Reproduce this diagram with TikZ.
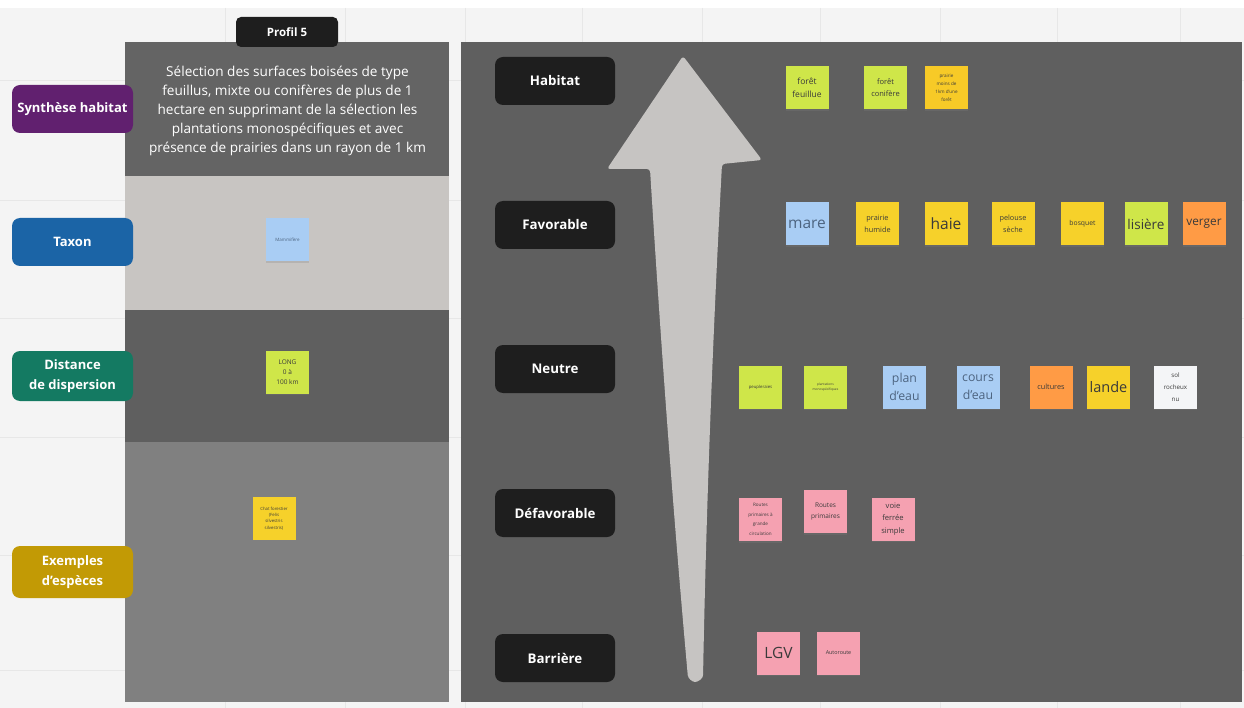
\documentclass[tikz,border=0pt]{standalone}
\usepackage{fontspec}
\setmainfont{Open Sans}
\usetikzlibrary{shadows}
\definecolor{bgc}{HTML}{F4F4F4}
\definecolor{gridc}{HTML}{E7E7E7}
\definecolor{panelc}{HTML}{5F5F5F}
\definecolor{headc}{HTML}{646464}
\definecolor{lightc}{HTML}{C8C5C2}
\definecolor{darkc}{HTML}{5F5F5F}
\definecolor{midc}{HTML}{808080}
\definecolor{blackc}{HTML}{1E1E1E}
\definecolor{purplec}{HTML}{61206F}
\definecolor{bluec}{HTML}{1B64A6}
\definecolor{tealc}{HTML}{147A62}
\definecolor{goldc}{HTML}{C29A05}
\definecolor{arrowc}{HTML}{C6C4C2}
\definecolor{limec}{HTML}{CFE649}
\definecolor{yellowc}{HTML}{F6D12A}
\definecolor{orangec}{HTML}{FF9B45}
\definecolor{skyc}{HTML}{A9CDF4}
\definecolor{pinkc}{HTML}{F5A1B1}
\definecolor{whitec}{HTML}{F4F5F7}
\definecolor{txtc}{HTML}{3A3A3A}
\definecolor{bluetxt}{HTML}{4D6480}
\newcommand\myfs[2]{\fontsize{#1}{#2}\selectfont}
\tikzset{
  leftlbl/.style={rounded corners=8pt, text=white, align=center, minimum width=121pt, inner sep=0pt,
    font=\bfseries\myfs{13}{19.5}},
  catbox/.style={fill=blackc, rounded corners=8pt, text=white, align=center, minimum width=120pt,
    minimum height=48pt, inner sep=0pt, font=\bfseries\myfs{13.3}{15}},
  note/.style={minimum width=43pt, minimum height=43pt, inner sep=0pt, align=center, text=txtc,
    drop shadow={opacity=0.25, shadow xshift=0pt, shadow yshift=-1.5pt}},
  lime/.style={note, fill=limec},
  yel/.style={note, fill=yellowc},
  ora/.style={note, fill=orangec},
  sky/.style={note, fill=skyc, text=bluetxt},
  pink/.style={note, fill=pinkc},
  wht/.style={note, fill=whitec},
}
\begin{document}
\begin{tikzpicture}[x=1pt,y=-1pt]
\useasboundingbox (0,0) rectangle (1244,708);
% background and grid
\fill[bgc] (0,0) rectangle (1244,708);
\fill[white] (0,0) rectangle (1244,8);
\foreach \gx in {225,345,465,582,702,820,940,1057,1180}
  \draw[gridc, line width=0.8pt] (\gx,8) -- (\gx,708);
\foreach \gy in {80,200,318,437,555,670}
  \draw[gridc, line width=0.8pt] (0,\gy) -- (1244,\gy);

% left panel
\fill[headc] (125,42) rectangle (449,176);
\fill[lightc] (125,176) rectangle (449,310);
\fill[darkc] (125,310) rectangle (449,442);
\fill[midc] (125,442) rectangle (449,702);

\node[fill=blackc, rounded corners=5pt, text=white, minimum width=102pt, minimum height=30pt,
  inner sep=0pt, font=\bfseries\myfs{11.5}{14}] (profil) at (287,32) {Profil 5};

\node[text=white, align=center, font=\myfs{13.6}{19.2}] (synthtext) at (287.5,111)
  {Sélection des surfaces boisées de type\\feuillus, mixte ou conifères de plus de 1\\hectare en supprimant de la sélection les\\plantations monospécifiques et avec\\présence de prairies dans un rayon de 1 km};

\node[leftlbl, fill=purplec, minimum height=48pt] (synth) at (72.5,109) {Synthèse habitat};
\node[leftlbl, fill=bluec, minimum height=48pt] (taxon) at (72.5,242) {Taxon};
\node[leftlbl, fill=tealc, minimum height=50pt] (dist) at (72.5,376) {Distance\\de dispersion};
\node[leftlbl, fill=goldc, minimum height=52pt] (ex) at (72.5,572) {Exemples\\d'espèces};

\node[sky, font=\myfs{4.5}{6}] (mammi) at (287.5,240) {Mammifère};
\node[lime, font=\myfs{6.5}{10}] (long) at (287.5,372) {LONG\\0 à\\100 km};
\node[yel, font=\myfs{4.3}{6.2}] (chat) at (274,518.5) {Chat forestier\\(Felis\\silvestris\\silvestris)};

% right panel
\fill[panelc] (461,42) rectangle (1242,702);

% big arrow
\fill[arrowc, rounded corners=3pt] (683,56) -- (762,160) -- (722,164)
  .. controls (712,350) and (706,520) .. (703,678) -- (695,683) -- (688,678)
  .. controls (672,500) and (660,330) .. (650,169) -- (607,169) -- cycle;

% category boxes
\node[catbox] (habitat) at (555,81) {Habitat};
\node[catbox] (fav) at (555,225) {Favorable};
\node[catbox] (neutre) at (555,369) {Neutre};
\node[catbox] (defav) at (555,513) {Défavorable};
\node[catbox] (barr) at (555,658) {Barrière};

% habitat row
\node[lime, font=\myfs{8.5}{13}] (feuil) at (807,88) {forêt\\feuillue};
\node[lime, font=\myfs{7.5}{12}] (conif) at (885.5,88) {forêt\\conifère};
\node[yel, fill=yellowc!92!orange, font=\myfs{4.6}{8}] (prmoins) at (946.5,88) {prairie\\moins de\\1km d'une\\forêt};

% favorable row
\node[sky, font=\myfs{15.5}{17}] (mare) at (807,224) {mare};
\node[yel, font=\myfs{7.3}{11.5}] (prhum) at (877.5,224) {prairie\\humide};
\node[yel, font=\myfs{15.5}{17}] (haie) at (946,224) {haie};
\node[yel, font=\myfs{7.3}{11.5}] (pelouse) at (1013,224) {pelouse\\sèche};
\node[yel, font=\myfs{6.8}{8}] (bosquet) at (1082.5,224) {bosquet};
\node[lime, font=\myfs{13.5}{15}] (lisiere) at (1146,224) {lisière};
\node[ora, font=\myfs{11.8}{14}] (verger) at (1204,224) {verger};

% neutre row
\node[lime, font=\myfs{4.3}{6}] (peup) at (760.5,387) {peupleraies};
\node[lime, font=\myfs{3.2}{5}] (plant) at (825.5,387) {plantations\\monospécifiques};
\node[sky, font=\myfs{12.3}{18.5}] (plan) at (904.5,387) {plan\\d'eau};
\node[sky, font=\myfs{12.3}{18.5}] (cours) at (978,387) {cours\\d'eau};
\node[ora, font=\myfs{7.3}{9}] (cult) at (1051,387) {cultures};
\node[yel, font=\myfs{14.5}{16}] (lande) at (1108.5,387) {lande};
\node[wht, font=\myfs{6.2}{12}] (sol) at (1175.5,387) {sol\\rocheux\\nu};

% défavorable row
\node[pink, font=\myfs{4.6}{9.5}] (rpgc) at (760.5,519.5) {Routes\\primaires à\\grande\\circulation};
\node[pink, font=\myfs{6.5}{11}] (rp) at (825.5,511.5) {Routes\\primaires};
\node[pink, font=\myfs{7.6}{12.5}] (voie) at (893,519) {voie\\ferrée\\simple};

% barrière row
\node[pink, font=\myfs{15.5}{17}] (lgv) at (778.5,653) {LGV};
\node[pink, font=\myfs{5.4}{7}] (auto) at (838.5,653) {Autoroute};
\end{tikzpicture}
\end{document}
